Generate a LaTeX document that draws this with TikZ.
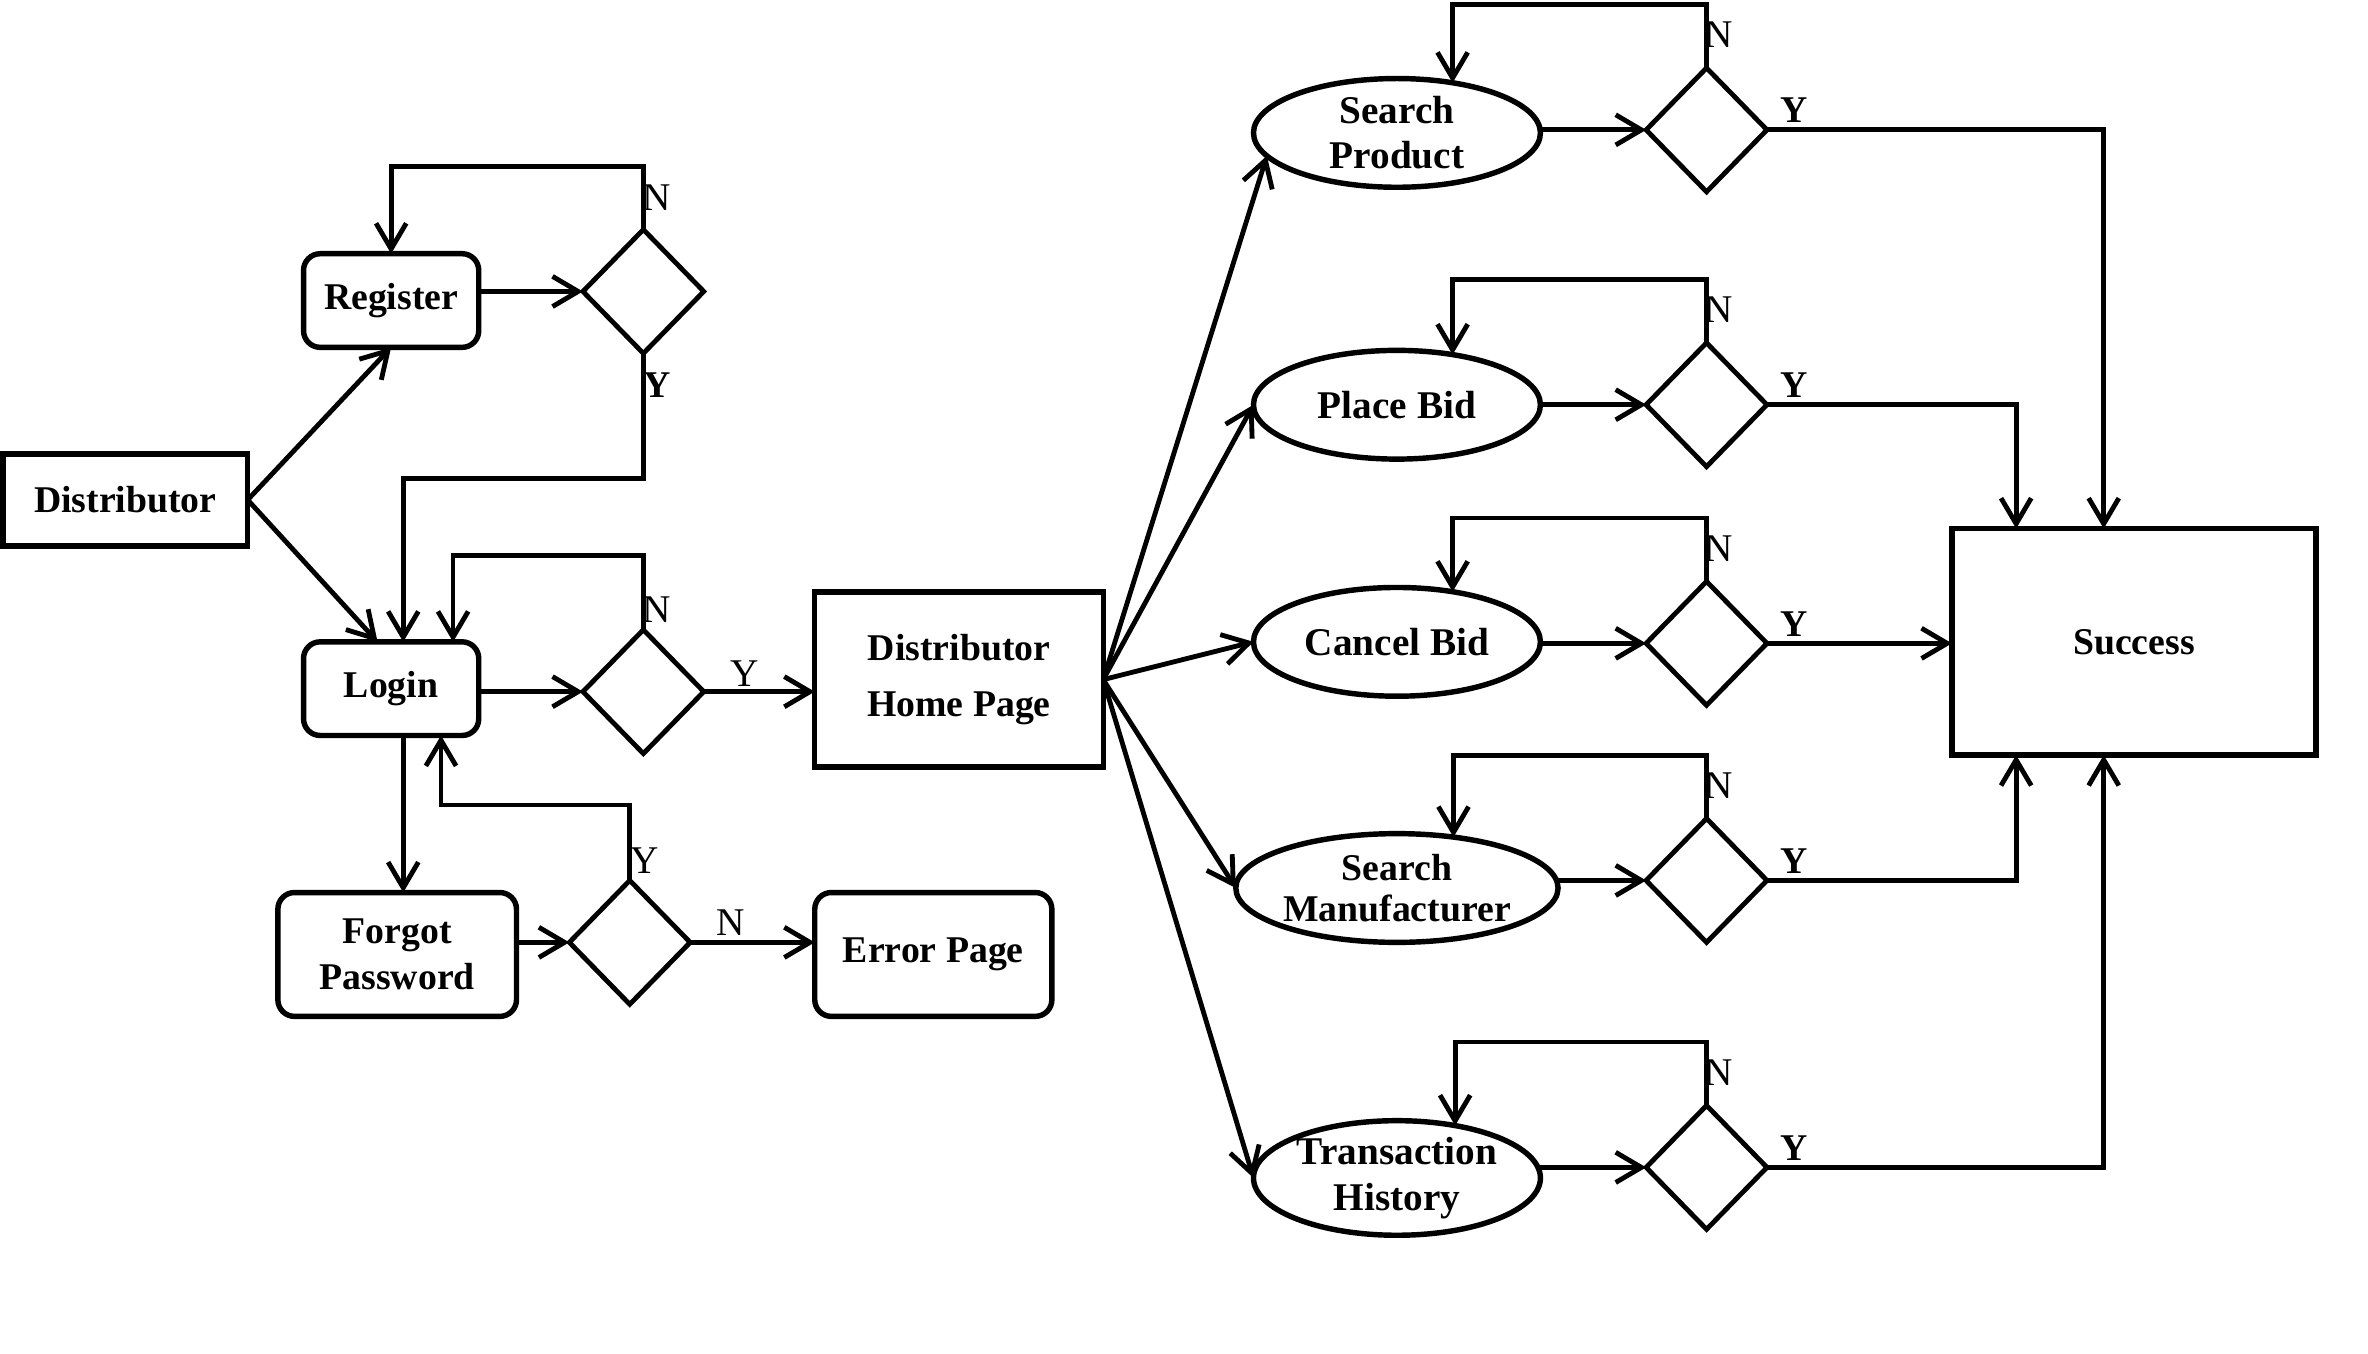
\documentclass[tikz,border=0pt]{standalone}
\usepackage{fontspec}
\setmainfont{Liberation Serif}
\usetikzlibrary{arrows.meta,shapes.geometric}

\tikzset{
  boxtxt/.style={font=\bfseries\fontsize{25}{30}\selectfont, align=center, inner sep=0pt, outer sep=0pt},
  plainbox/.style={boxtxt, draw, line width=3.6pt},
  roundbox/.style={plainbox, rounded corners=11pt},
  oval/.style={boxtxt, font=\bfseries\fontsize{26}{30}\selectfont, draw, ellipse, line width=3.6pt, minimum width=190pt, minimum height=72pt},
  choice/.style={draw, diamond, line width=3.2pt, minimum width=80pt, minimum height=82pt, inner sep=0pt, outer sep=0pt},
  lbl/.style={font=\fontsize{26}{30}\selectfont, inner sep=0pt},
  lblb/.style={font=\bfseries\fontsize{25}{30}\selectfont, inner sep=0pt},
  flow/.style={line width=3.2pt, -{Straight Barb[length=17pt,width=20pt]}},
}

\begin{document}
\begin{tikzpicture}[x=1pt,y=1pt,yscale=-1,xscale=1]
    \useasboundingbox (0,0) rectangle (1568,896);

    % Boxes
    \node[plainbox, minimum width=162pt, minimum height=61pt] (dist) at (83,331) {Distributor};
    \node[roundbox, minimum width=116pt, minimum height=62pt] (reg) at (259,199) {Register};
    \node[roundbox, minimum width=116pt, minimum height=62pt] (login) at (259,456) {Login};
    \node[roundbox, minimum width=158pt, minimum height=82pt] (fp) at (263,632) {Forgot\\Password};
    \node[roundbox, minimum width=157pt, minimum height=82pt] (err) at (618,632) {Error Page};
    \node[plainbox, minimum width=191pt, minimum height=116pt, font=\bfseries\fontsize{25}{37}\selectfont] (home) at (635,450) {Distributor\\Home Page};
    \node[plainbox, minimum width=241pt, minimum height=150pt] (succ) at (1413,425) {Success};

    % Ovals
    \node[oval] (sp) at (925,88) {Search\\Product};
    \node[oval] (pb) at (925,268) {Place Bid};
    \node[oval] (cb) at (925,425) {Cancel Bid};
    \node[oval, font=\bfseries\fontsize{25}{27}\selectfont] (sm) at (925,588) {Search\\Manufacturer};
    \node[oval] (th) at (925,780) {Transaction\\History};

    % Decisions
    \node[choice] (dreg) at (426,193) {};
    \node[choice] (dlog) at (426,458) {};
    \node[choice] (dfp) at (417,624) {};
    \node[choice] (dsp) at (1130,86) {};
    \node[choice] (dpb) at (1130,268) {};
    \node[choice] (dcb) at (1130,426) {};
    \node[choice] (dsm) at (1130,583) {};
    \node[choice] (dth) at (1130,773) {};

    % Left part
    \draw[flow] (dist.east) -- (reg.south);
    \draw[flow] (dist.east) -- ([xshift=-9pt]login.north);
    \draw[flow] (reg.east |- dreg.west) -- (dreg.west);
    \draw[flow] (dreg.north) -- ++(0,-42) -| (reg.north);
    \draw[flow] (dreg.south) -- ++(0,83) -| ([xshift=8pt]login.north);
    \draw[flow] (login.east |- dlog.west) -- (dlog.west);
    \draw[flow] (dlog.north) -- ++(0,-49) -| ([xshift=41pt]login.north);
    \draw[flow] (dlog.east) -- (home.west |- dlog.east);
    \draw[flow] ([xshift=8pt]login.south) -- ([xshift=8pt]login.south |- fp.north);
    \draw[flow] (fp.east |- dfp.west) -- (dfp.west);
    \draw[flow] (dfp.north) -- ++(0,-50) -| ([xshift=33pt]login.south);
    \draw[flow] (dfp.east) -- (err.west |- dfp.east);

    % Home page to the tasks
    \draw[flow] (home.east) -- (sp.190);
    \draw[flow] (home.east) -- (pb.west);
    \draw[flow] (home.east) -- (cb.west);
    \draw[flow] (home.east) -- (sm.west);
    \draw[flow] (home.east) -- (th.west);

    % Tasks to decisions
    \draw[flow] (sp.east |- dsp.west) -- (dsp.west);
    \draw[flow] (pb.east |- dpb.west) -- (dpb.west);
    \draw[flow] (cb.east |- dcb.west) -- (dcb.west);
    \draw[flow] (sm.east |- dsm.west) -- (dsm.west);
    \draw[flow] (th.east |- dth.west) -- (dth.west);

    % No loops
    \draw[flow] (dsp.north) -- ++(0,-42) -| (sp.42);
    \draw[flow] (dpb.north) -- ++(0,-42) -| (pb.42);
    \draw[flow] (dcb.north) -- ++(0,-42) -| (cb.42);
    \draw[flow] (dsm.north) -- ++(0,-42) -| (sm.42);
    \draw[flow] (dth.north) -- ++(0,-42) -| (th.42);

    % Yes to success
    \draw[flow] (dsp.east) -| ([xshift=-20pt]succ.north);
    \draw[flow] (dpb.east) -| ([xshift=-78pt]succ.north);
    \draw[flow] (dcb.east) -- (succ.west |- dcb.east);
    \draw[flow] (dsm.east) -| ([xshift=-78pt]succ.south);
    \draw[flow] (dth.east) -| ([xshift=-20pt]succ.south);

    % Text Nodes
    \node[lbl] (nreg) at (435,131) {N};
    \node[lblb] (yreg) at (435,255) {Y};
    \node[lbl] (nlog) at (435,404) {N};
    \node[lbl] (ylog) at (493,446) {Y};
    \node[lbl] (yfp) at (427,570) {Y};
    \node[lbl] (nfp) at (484,611) {N};
    \node[lbl] (nsp) at (1138,23) {N};
    \node[lbl] (npb) at (1138,205) {N};
    \node[lbl] (ncb) at (1138,363) {N};
    \node[lbl] (nsm) at (1138,520) {N};
    \node[lbl] (nth) at (1138,710) {N};
    \node[lblb] (ysp) at (1188,73) {Y};
    \node[lblb] (ypb) at (1188,255) {Y};
    \node[lblb] (ycb) at (1188,413) {Y};
    \node[lblb] (ysm) at (1188,570) {Y};
    \node[lblb] (yth) at (1188,760) {Y};

\end{tikzpicture}
\end{document}
